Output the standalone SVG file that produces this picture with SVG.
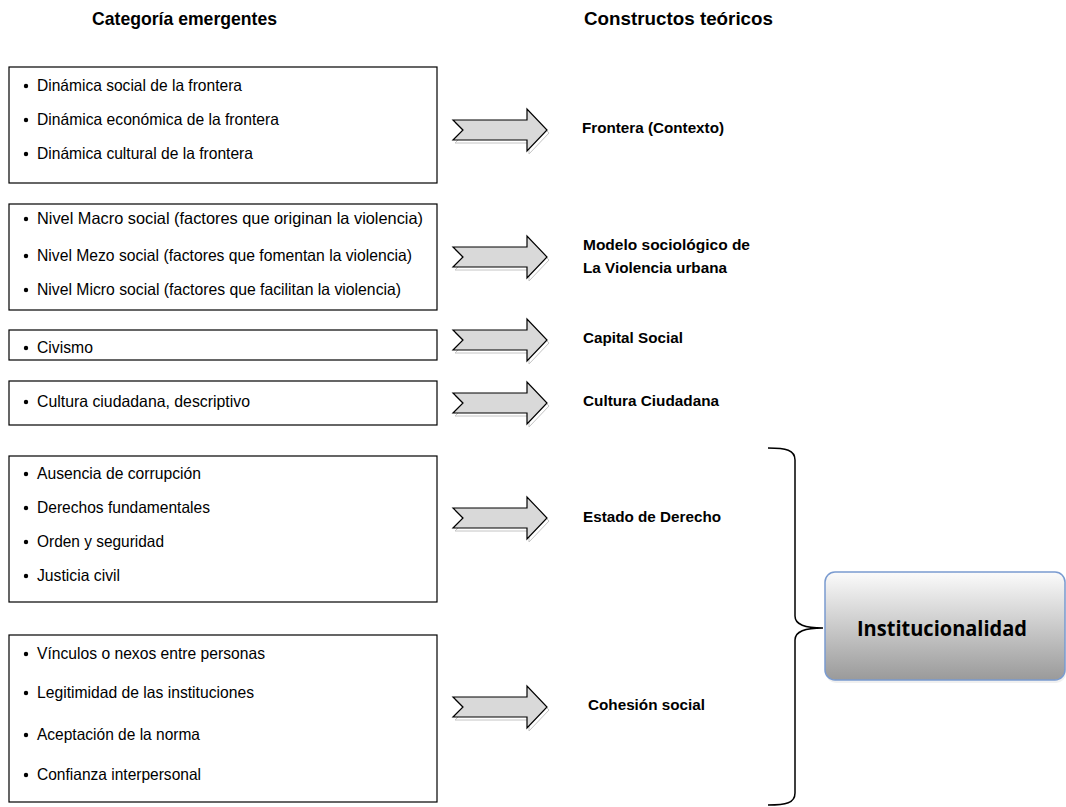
<svg xmlns="http://www.w3.org/2000/svg" width="1066" height="807" viewBox="0 0 1066 807">
<style>
.box{fill:#fff;stroke:#000;stroke-width:1.2}
.item{font-family:"Liberation Sans",Arial,sans-serif;font-size:16.5px;fill:#000}
.lbl{font-family:"Liberation Sans",Arial,sans-serif;font-size:15.5px;font-weight:bold;fill:#000}
.head{font-family:"Liberation Sans",Arial,sans-serif;font-size:19px;font-weight:bold;fill:#000}
.arr{fill:#d9d9d9;stroke:#000;stroke-width:1.2;stroke-linejoin:miter}
.shd{fill:#fff;stroke:#c4c4c4;stroke-width:1}
.brace{fill:none;stroke:#000;stroke-width:1.5}
</style>
<defs>
<path id="arrow" d="M0,-10 L74,-10 L74,-21 L94,0 L74,21 L74,10 L0,10 L10,0 Z"/>
<linearGradient id="g" x1="0" y1="0" x2="0" y2="1">
<stop offset="0" stop-color="#fbfbfb"/>
<stop offset="1" stop-color="#9a9a9a"/>
</linearGradient>
<g id="dot"><circle r="2.2" fill="#000"/></g>
</defs>
<rect width="1066" height="807" fill="#fff"/>

<g id="headings">
<text class="head" x="92" y="25" textLength="185" lengthAdjust="spacingAndGlyphs">Categoría emergentes</text>
<text class="head" x="584" y="25" textLength="189" lengthAdjust="spacingAndGlyphs">Constructos teóricos</text>
</g>

<g id="box-frontera">
<rect class="box" x="9" y="67" width="428" height="116"/>
<use href="#dot" x="26" y="86"/><text class="item" x="37" y="91" textLength="205" lengthAdjust="spacingAndGlyphs">Dinámica social de la frontera</text>
<use href="#dot" x="26" y="120"/><text class="item" x="37" y="125" textLength="242" lengthAdjust="spacingAndGlyphs">Dinámica económica de la frontera</text>
<use href="#dot" x="26" y="154"/><text class="item" x="37" y="159" textLength="216" lengthAdjust="spacingAndGlyphs">Dinámica cultural  de la frontera</text>
</g>

<g id="box-violencia">
<rect class="box" x="9" y="204" width="428" height="106"/>
<use href="#dot" x="26" y="219"/><text class="item" x="37" y="224" textLength="386" lengthAdjust="spacingAndGlyphs">Nivel Macro social (factores que originan la violencia)</text>
<use href="#dot" x="26" y="256"/><text class="item" x="37" y="261" textLength="375" lengthAdjust="spacingAndGlyphs">Nivel Mezo social (factores que fomentan la violencia)</text>
<use href="#dot" x="26" y="290"/><text class="item" x="37" y="295" textLength="364" lengthAdjust="spacingAndGlyphs">Nivel Micro social (factores que facilitan la violencia)</text>
</g>

<g id="box-civismo">
<rect class="box" x="9" y="330" width="428" height="30"/>
<use href="#dot" x="26" y="348"/><text class="item" x="37" y="353" textLength="56" lengthAdjust="spacingAndGlyphs">Civismo</text>
</g>

<g id="box-cultura">
<rect class="box" x="9" y="381" width="428" height="44"/>
<use href="#dot" x="26" y="402"/><text class="item" x="37" y="407" textLength="213" lengthAdjust="spacingAndGlyphs">Cultura ciudadana, descriptivo</text>
</g>

<g id="box-estado">
<rect class="box" x="9" y="456" width="428" height="146"/>
<use href="#dot" x="26" y="474"/><text class="item" x="37" y="479" textLength="164" lengthAdjust="spacingAndGlyphs">Ausencia de corrupción</text>
<use href="#dot" x="26" y="508"/><text class="item" x="37" y="513" textLength="173" lengthAdjust="spacingAndGlyphs">Derechos fundamentales</text>
<use href="#dot" x="26" y="542"/><text class="item" x="37" y="547" textLength="127" lengthAdjust="spacingAndGlyphs">Orden y seguridad</text>
<use href="#dot" x="26" y="576"/><text class="item" x="37" y="581" textLength="83" lengthAdjust="spacingAndGlyphs">Justicia civil</text>
</g>

<g id="box-cohesion">
<rect class="box" x="9" y="635" width="428" height="167"/>
<use href="#dot" x="26" y="654"/><text class="item" x="37" y="659" textLength="228" lengthAdjust="spacingAndGlyphs">Vínculos o nexos entre personas</text>
<use href="#dot" x="26" y="693"/><text class="item" x="37" y="698" textLength="217" lengthAdjust="spacingAndGlyphs">Legitimidad de las instituciones</text>
<use href="#dot" x="26" y="735"/><text class="item" x="37" y="740" textLength="163" lengthAdjust="spacingAndGlyphs">Aceptación de la norma</text>
<use href="#dot" x="26" y="775"/><text class="item" x="37" y="780" textLength="164" lengthAdjust="spacingAndGlyphs">Confianza interpersonal</text>
</g>

<g id="label-frontera"><text class="lbl" x="582" y="133" textLength="142" lengthAdjust="spacingAndGlyphs">Frontera (Contexto)</text></g>
<g id="label-modelo">
<text class="lbl" x="583" y="250" textLength="167" lengthAdjust="spacingAndGlyphs">Modelo sociológico de</text>
<text class="lbl" x="583" y="273" textLength="144" lengthAdjust="spacingAndGlyphs">La Violencia urbana</text>
</g>
<g id="label-capital"><text class="lbl" x="583" y="343" textLength="100" lengthAdjust="spacingAndGlyphs">Capital Social</text></g>
<g id="label-cultura"><text class="lbl" x="583" y="406" textLength="136" lengthAdjust="spacingAndGlyphs">Cultura Ciudadana</text></g>
<g id="label-estado"><text class="lbl" x="583" y="522" textLength="138" lengthAdjust="spacingAndGlyphs">Estado de Derecho</text></g>
<g id="label-cohesion"><text class="lbl" x="588" y="710" textLength="117" lengthAdjust="spacingAndGlyphs">Cohesión social</text></g>

<g id="institucionalidad">
<rect x="826" y="574" width="240" height="109" rx="10" fill="#e6e6e6" opacity="0.6"/>
<rect x="825" y="572" width="240" height="108" rx="10" fill="url(#g)" stroke="#7a9bd0" stroke-width="1.5"/>
<text x="857" y="636" font-family="'Open Sans','Noto Sans',sans-serif" font-size="22" font-weight="bold" textLength="170" lengthAdjust="spacingAndGlyphs">Institucionalidad</text>
</g>

<g id="connectors">
<g transform="translate(455,133)"><use href="#arrow" class="shd"/></g>
<g transform="translate(453,130)"><use href="#arrow" class="arr"/></g>
<g transform="translate(455,260)"><use href="#arrow" class="shd"/></g>
<g transform="translate(453,257)"><use href="#arrow" class="arr"/></g>
<g transform="translate(455,343)"><use href="#arrow" class="shd"/></g>
<g transform="translate(453,340)"><use href="#arrow" class="arr"/></g>
<g transform="translate(455,406)"><use href="#arrow" class="shd"/></g>
<g transform="translate(453,403)"><use href="#arrow" class="arr"/></g>
<g transform="translate(455,521)"><use href="#arrow" class="shd"/></g>
<g transform="translate(453,518)"><use href="#arrow" class="arr"/></g>
<g transform="translate(455,710)"><use href="#arrow" class="shd"/></g>
<g transform="translate(453,707)"><use href="#arrow" class="arr"/></g>
<path class="brace" d="M768,448 C786,448 795,450 795,460 L795,616 C795,625 805,628 823,628 C805,628 795,631 795,640 L795,793 C795,803 786,805 768,805"/>
</g>
</svg>
